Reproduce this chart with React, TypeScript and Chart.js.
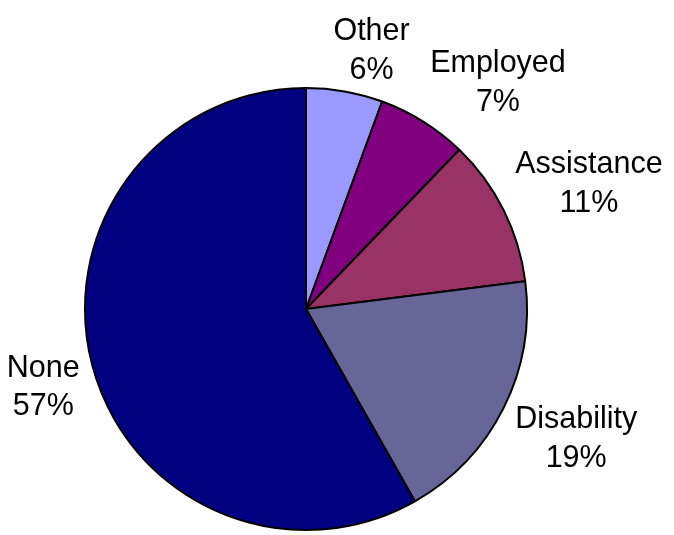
import React, { useEffect, useRef } from "react";
import { Chart, registerables } from "chart.js";

Chart.register(...registerables);

const categories = ["Other", "Employed", "Assistance", "Disability", "None"];
// slice sizes as drawn in the picture (percent of the pie)
const shares = [5.6, 6.6, 10.8, 18.8, 58.2];
// percentages as printed in the labels
const shareLabels = ["6%", "7%", "11%", "19%", "57%"];
const colors = ["#9999FF", "#800080", "#993366", "#666699", "#000080"];

const FONT_SIZE = 30.5;
const LINE_GAP = 38.5;
const CAP_H = 21.7;
const LABEL_GAP = 13;

const outsideLabels = {
  id: "outsideLabels",
  afterDatasetsDraw(chart: any) {
    const ctx = chart.ctx as CanvasRenderingContext2D;
    const meta = chart.getDatasetMeta(0);
    const labels = chart.data.labels as string[];
    ctx.save();
    ctx.font = `${FONT_SIZE}px "Liberation Sans", Arial, sans-serif`;
    ctx.fillStyle = "#000";
    ctx.textAlign = "center";
    ctx.textBaseline = "alphabetic";
    meta.data.forEach((arc: any, i: number) => {
      const { x, y, startAngle, endAngle, outerRadius } = arc.getProps(
        ["x", "y", "startAngle", "endAngle", "outerRadius"],
        true
      );
      const mid = (startAngle + endAngle) / 2;
      const ux = Math.cos(mid);
      const uy = Math.sin(mid);
      const line1 = labels[i];
      const line2 = shareLabels[i];
      const w = Math.max(ctx.measureText(line1).width, ctx.measureText(line2).width);
      const h = LINE_GAP + CAP_H;
      const d = outerRadius + LABEL_GAP;
      const ax = x + ux * d;
      const ay = y + uy * d;
      const fx = Math.min(1, 0.47 + Math.abs(ux));
      const fy = Math.min(1, 0.3 + Math.abs(uy));
      const cx = ax + Math.sign(ux) * (w / 2) * fx;
      const cy = ay + Math.sign(uy) * (h / 2) * fy;
      const b1 = cy - h / 2 + CAP_H;
      ctx.fillText(line1, cx, b1);
      ctx.fillText(line2, cx, b1 + LINE_GAP);
    });
    ctx.restore();
  },
};

export default function App() {
  const ref = useRef<HTMLCanvasElement | null>(null);
  useEffect(() => {
    document.body.style.margin = "0";
    const chart = new Chart(ref.current as HTMLCanvasElement, {
      type: "pie",
      data: {
        labels: categories,
        datasets: [
          {
            data: shares,
            backgroundColor: colors,
            borderColor: "#000000",
            borderWidth: 2,
          },
        ],
      },
      options: {
        responsive: false,
        animation: false,
        layout: { padding: { left: 84, right: 146, top: 87, bottom: 4 } },
        plugins: {
          legend: { display: false },
          tooltip: { enabled: false },
        },
      },
      plugins: [outsideLabels],
    });
    return () => chart.destroy();
  }, []);
  return (
    <div style={{ width: 674, height: 535, background: "#fff" }}>
      <canvas ref={ref} width={674} height={535} />
    </div>
  );
}
